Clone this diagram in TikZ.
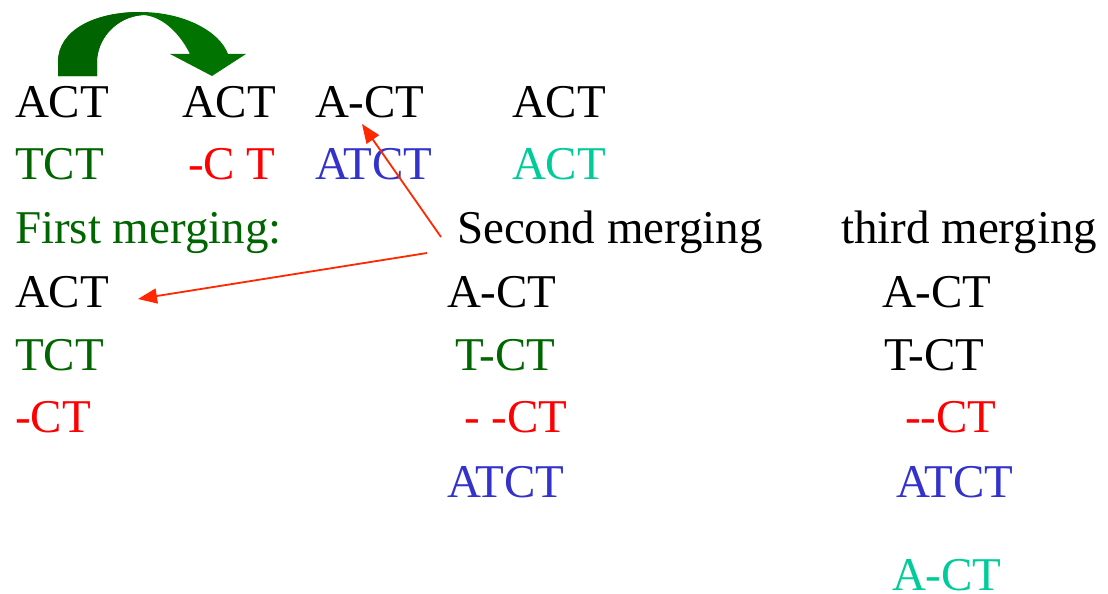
\documentclass[tikz,border=0pt]{standalone}
\usepackage{fontspec}
\setmainfont{Liberation Serif}[Ligatures=NoCommon]
\usetikzlibrary{arrows.meta}
\definecolor{dgreen}{RGB}{0,102,0}
\definecolor{myblue}{RGB}{51,51,204}
\definecolor{myteal}{RGB}{0,204,153}
\definecolor{myred}{RGB}{255,0,0}
\definecolor{arrred}{RGB}{255,40,0}
\definecolor{arrgreenA}{RGB}{0,100,0}
\definecolor{arrgreenB}{RGB}{0,115,0}
\tikzset{
  txt/.style={anchor=base west,inner sep=0pt,outer sep=0pt,font=\fontsize{47}{52}\selectfont},
  redarrow/.style={draw=arrred,line width=1.8pt,-{Triangle[length=19pt,width=15pt]}},
}
\begin{document}
\begin{tikzpicture}[x=1pt,y=-1pt]
\useasboundingbox (0,0) rectangle (1108,594);
% curved block arrow
\fill[arrgreenB] (58,76) -- (58,62) .. controls (58,30) and (95,12) .. (140,12)
  .. controls (185,12) and (220,32) .. (228,54) -- (246,54) -- (212,76) -- (170,54) -- (190,54)
  .. controls (178,30) and (160,16) .. (143,15) .. controls (115,17) and (97,40) .. (97,62) -- (97,76) -- cycle;
\fill[arrgreenA] (58,76) -- (58,62) .. controls (58,30) and (95,12) .. (140,12) -- (143,15)
  .. controls (115,17) and (97,40) .. (97,62) -- (97,76) -- cycle;
% row 1
\node[txt] (r1a) at (15,117) {ACT};
\node[txt] (r1b) at (182,117) {ACT};
\node[txt] (r1c) at (315,117) {A-CT};
\node[txt] (r1d) at (512,117) {ACT};
% row 2
\node[txt,text=dgreen] (r2a) at (15,179) {TCT};
\node[txt,text=myred] (r2b) at (188,179) {-C T};
\node[txt,text=myblue] (r2c) at (315,179) {ATCT};
\node[txt,text=myteal] (r2d) at (512,179) {ACT};
% row 3
\node[txt,text=dgreen] (h1) at (15,243) {First merging:};
\node[txt] (h2) at (457,243) {Second merging};
\node[txt] (h3) at (841,243) {third merging};
% first merging column
\node[txt] (f1) at (15,307) {ACT};
\node[txt,text=dgreen] (f2) at (15,370) {TCT};
\node[txt,text=myred] (f3) at (15,432) {-CT};
% second merging column
\node[txt] (s1) at (447,307) {A-CT};
\node[txt,text=dgreen] (s2) at (455,370) {T-CT};
\node[txt,text=myred] (s3) at (464,432) {- -CT};
\node[txt,text=myblue] (s4) at (447,497) {ATCT};
% third merging column
\node[txt] (t1) at (882,307) {A-CT};
\node[txt] (t2) at (884,370) {T-CT};
\node[txt,text=myred] (t3) at (905,432) {{-}{-}CT};
\node[txt,text=myblue] (t4) at (896,497) {ATCT};
\node[txt,text=myteal] (t5) at (892,590) {A-CT};
% red arrows
\coordinate (a1s) at (441,237);
\coordinate (a1e) at (362,124);
\coordinate (a2s) at (427,253);
\coordinate (a2e) at (138,299);
\draw[redarrow] (a1s) -- (a1e);
\draw[redarrow] (a2s) -- (a2e);
\end{tikzpicture}
\end{document}
